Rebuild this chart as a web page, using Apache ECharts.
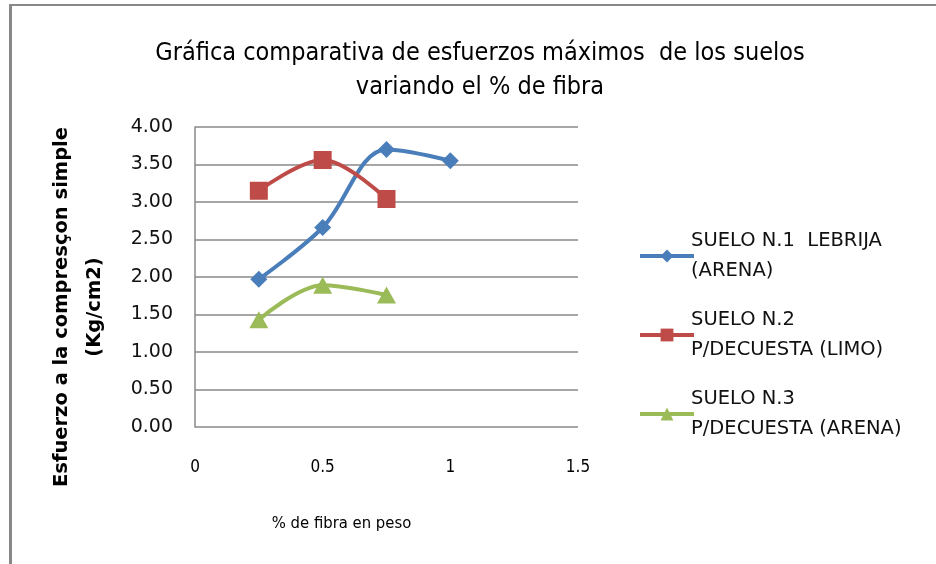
<!DOCTYPE html>
<html>
<head>
<meta charset="utf-8">
<script src="https://cdn.jsdelivr.net/npm/echarts@6/dist/echarts.min.js"></script>
<style>
  html, body { margin: 0; padding: 0; background: #fff; }
  #chart { width: 936px; height: 564px; }
</style>
</head>
<body>
<div id="chart"></div>
<script>
// fibre percentage (x) and max compressive stress (y) per soil
const xSuelo1 = [0.25, 0.5, 0.75, 1.0]
const ySuelo1 = [1.97, 2.66, 3.70, 3.55]
const xSuelo2 = [0.25, 0.5, 0.75]
const ySuelo2 = [3.15, 3.56, 3.04]
const xSuelo3 = [0.25, 0.5, 0.75]
const ySuelo3 = [1.43, 1.89, 1.76]
const seriesNames = [
  'SUELO N.1  LEBRIJA\n(ARENA)',
  'SUELO N.2\nP/DECUESTA (LIMO)',
  'SUELO N.3\nP/DECUESTA (ARENA)'
]
const titleLines = 'Gráfica comparativa de esfuerzos máximos  de los suelos\nvariando el % de fibra'
const xName = '% de fibra en peso'
const yName = 'Esfuerzo a la compresçon simple\n(Kg/cm2)'

const narrow = '"Liberation Sans Narrow", "DejaVu Sans Condensed", "Open Sans", sans-serif'
const wide = '"DejaVu Sans", Verdana, sans-serif'

const pairs = (xs, ys) => xs.map((x, i) => [x, ys[i]])

const chart = echarts.init(document.getElementById('chart'))
chart.setOption({
  animation: false,
  backgroundColor: '#fff',
  title: {
    text: titleLines,
    left: 475,
    textAlign: 'center',
    top: 31,
    textStyle: { fontFamily: narrow, fontSize: 25, fontWeight: 'normal', color: '#000', lineHeight: 34 }
  },
  graphic: [
    { type: 'rect', shape: { x: 9, y: 4, width: 3, height: 560 }, style: { fill: '#888' } },
    { type: 'rect', shape: { x: 9, y: 4, width: 927, height: 2 }, style: { fill: '#888' } }
  ],
  grid: { left: 195, right: 358, top: 127, bottom: 137 },
  legend: {
    orient: 'vertical',
    left: 633,
    top: 221,
    itemWidth: 54,
    itemHeight: 16,
    itemGap: 19,
    lineStyle: { width: 4 },
    textStyle: { fontFamily: wide, fontSize: 19.5, color: '#111', lineHeight: 30, padding: [0, 0, 0, -8] },
    data: seriesNames
  },
  xAxis: {
    type: 'value',
    min: 0,
    max: 1.5,
    interval: 0.5,
    name: xName,
    nameLocation: 'middle',
    nameGap: 88,
    nameTextStyle: { fontFamily: narrow, fontSize: 16.5, color: '#000', padding: [0, 90, 0, 0] },
    axisLine: { show: false },
    axisTick: { show: false },
    splitLine: { show: false },
    axisLabel: { margin: 32, fontFamily: narrow, fontSize: 17, color: '#000' }
  },
  yAxis: {
    type: 'value',
    min: 0,
    max: 4,
    interval: 0.5,
    name: yName,
    nameLocation: 'middle',
    nameRotate: 90,
    nameGap: 84,
    nameTextStyle: { fontFamily: wide, fontSize: 19.5, fontWeight: 'bold', color: '#000', lineHeight: 33, padding: [0, 60, 0, 0] },
    axisLine: { show: true, lineStyle: { color: '#888', width: 1.5 } },
    axisTick: { show: false },
    splitLine: { show: true, lineStyle: { color: '#888', width: 1.5 } },
    axisLabel: { margin: 22, fontFamily: wide, fontSize: 19, color: '#111', formatter: v => v.toFixed(2) }
  },
  series: [
    {
      name: seriesNames[0], type: 'line', smooth: 0.35,
      data: pairs(xSuelo1, ySuelo1),
      symbol: 'diamond', symbolSize: 17,
      lineStyle: { width: 4, color: '#4a7ebb' },
      itemStyle: { color: '#4a7ebb' }
    },
    {
      name: seriesNames[1], type: 'line', smooth: 0.35,
      data: pairs(xSuelo2, ySuelo2),
      symbol: 'rect', symbolSize: 18,
      lineStyle: { width: 4, color: '#be4b48' },
      itemStyle: { color: '#be4b48' }
    },
    {
      name: seriesNames[2], type: 'line', smooth: 0.35,
      data: pairs(xSuelo3, ySuelo3),
      symbol: 'triangle', symbolSize: [19, 17],
      lineStyle: { width: 4, color: '#9bbb59' },
      itemStyle: { color: '#9bbb59' }
    }
  ]
})
</script>
</body>
</html>
